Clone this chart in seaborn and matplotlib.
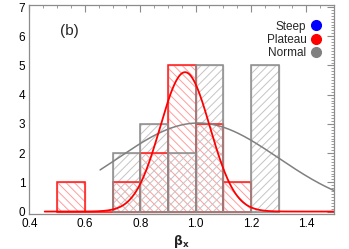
import numpy as np
import pandas as pd
import matplotlib
matplotlib.use("Agg")
import matplotlib.pyplot as plt
import seaborn as sns
from matplotlib.lines import Line2D
from matplotlib.ticker import MultipleLocator

# ---- data ----
bin_width = 0.1
normal_left = [0.7, 0.8, 0.9, 1.0, 1.1, 1.2]
normal_counts = [2, 3, 2, 5, 0, 5]
plateau_left = [0.5, 0.6, 0.7, 0.8, 0.9, 1.0, 1.1]
plateau_counts = [1, 0, 1, 2, 5, 3, 1]

# Gaussian fit curves: (amplitude, centre, sigma, x-start, x-end)
plateau_fit = dict(amp=4.77, mu=0.962, sigma=0.09, x0=0.455, x1=1.5)
normal_fit = dict(amp=3.03, mu=1.01, sigma=0.289, x0=0.655, x1=1.5)

legend_labels = ["Steep", "Plateau", "Normal"]
legend_colors = ["#0000ff", "#ff0000", "#808080"]

# ---- style ----
sns.set_theme(style="white")
plt.rcParams["font.family"] = ["Liberation Sans", "DejaVu Sans"]
plt.rcParams["hatch.linewidth"] = 0.7
plt.rcParams["mathtext.fontset"] = "dejavusans"

fig = plt.figure(figsize=(3.49, 2.49), dpi=100)
ax = fig.add_axes([0.0845, 0.141, 0.8725, 0.839])

def hist_df(left, counts):
    left = np.asarray(left, dtype=float)
    edges = [float(round(v, 3)) for v in np.append(left, left[-1] + bin_width)]
    return pd.DataFrame({"x": left + bin_width / 2, "w": counts}), edges

pl_df, pl_edges = hist_df(plateau_left, plateau_counts)
no_df, no_edges = hist_df(normal_left, normal_counts)

red_edge = "#ff1a1a"
red_hatch = "#ff9c9c"
gray_edge = "#8c8c8c"
gray_hatch = "#c4c4c4"

# hatch layers
sns.histplot(data=pl_df, x="x", weights="w", bins=pl_edges, fill=False,
             color=red_hatch, hatch="\\\\\\\\", linewidth=1.0, ax=ax)
sns.histplot(data=no_df, x="x", weights="w", bins=no_edges, fill=False,
             color=gray_hatch, hatch="////", linewidth=1.0, ax=ax)
# outlines
sns.histplot(data=pl_df, x="x", weights="w", bins=pl_edges, fill=False,
             color=red_edge, linewidth=1.1, ax=ax)
sns.histplot(data=no_df, x="x", weights="w", bins=no_edges, fill=False,
             color=gray_edge, linewidth=1.1, ax=ax)

def gauss_df(p):
    xs = np.linspace(p["x0"], p["x1"], 300)
    ys = p["amp"] * np.exp(-(xs - p["mu"]) ** 2 / (2 * p["sigma"] ** 2))
    return pd.DataFrame({"x": xs, "y": ys})

sns.lineplot(data=gauss_df(normal_fit), x="x", y="y", color="#808080", linewidth=1.1, ax=ax)
sns.lineplot(data=gauss_df(plateau_fit), x="x", y="y", color="#ff0000", linewidth=1.3, ax=ax)

ax.set_xlim(0.4, 1.5)
ax.set_ylim(-0.08, 7.07)
ax.xaxis.set_major_locator(MultipleLocator(0.2))
ax.xaxis.set_minor_locator(MultipleLocator(0.05))
ax.yaxis.set_major_locator(MultipleLocator(1))
ax.yaxis.set_minor_locator(MultipleLocator(0.1))
ax.set_xticks([0.4, 0.6, 0.8, 1.0, 1.2, 1.4])
ax.set_xticklabels(["0.4", "0.6", "0.8", "1.0", "1.2", "1.4"])
ax.tick_params(which="both", direction="in", top=True, right=True,
               color="#8c8c8c", labelsize=8.5, labelcolor="black", pad=3)
ax.tick_params(which="major", length=5, width=0.8)
ax.tick_params(which="minor", length=2.5, width=0.6)
for s in ax.spines.values():
    s.set_color("#8c8c8c")
    s.set_linewidth(0.9)

ax.set_ylabel("")
ax.set_xlabel(r"$\mathbf{\beta_x}$", fontsize=9, labelpad=2)

ax.text(0.1, 0.875, "(b)", transform=ax.transAxes, fontsize=11, ha="left", va="center")

handles = [Line2D([], [], marker="o", linestyle="none", markersize=7,
                  markerfacecolor=c, markeredgecolor=c) for c in legend_colors]
leg = ax.legend(handles, legend_labels, loc="upper right", bbox_to_anchor=(0.985, 0.965),
                frameon=False, markerfirst=False, fontsize=8.5, handletextpad=0.45,
                handlelength=0.8, labelspacing=0.12, borderaxespad=0.3)
for t in leg.get_texts():
    t.set_ha("right")

fig.savefig("out.png", dpi=100)
